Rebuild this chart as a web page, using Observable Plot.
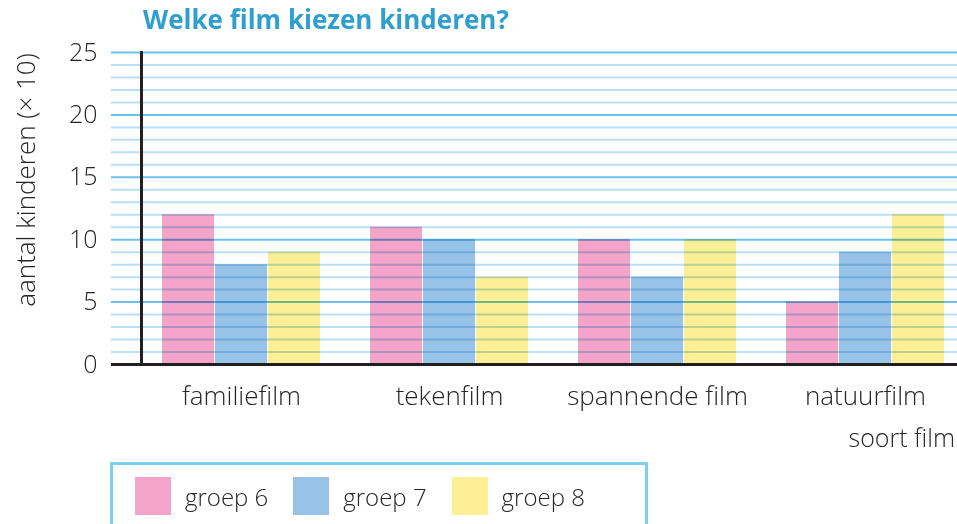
<!DOCTYPE html>
<html>
<head>
<meta charset="utf-8">
<script src="https://cdn.jsdelivr.net/npm/d3@7"></script>
<script src="https://cdn.jsdelivr.net/npm/@observablehq/plot@0.6"></script>
<style>
  html, body { margin: 0; padding: 0; background: #fff; }
  #wrap { position: relative; width: 957px; height: 524px; overflow: hidden; font-family: "Open Sans", Lato, sans-serif; font-weight: 300; color: #252525; font-variant-ligatures: none; }
  #title { position: absolute; left: 143px; top: 1px; font-size: 26px; font-weight: bold; color: #2f9fd0; white-space: nowrap; }
  #ylabel { position: absolute; left: 25px; top: 180px; transform: translate(-50%, -50%) rotate(-90deg); font-size: 26px; white-space: nowrap; }
  #xlabel { position: absolute; right: 2px; top: 420px; font-size: 25px; white-space: nowrap; }
  #legend { position: absolute; left: 110px; top: 462px; width: 538px; height: 80px; border: 3px solid #7fcdf0; box-sizing: border-box; display: flex; align-items: flex-start; padding-top: 12px; padding-left: 22px; font-size: 24px; }
  .item { display: flex; align-items: center; margin-right: 25px; }
  .sw { width: 36px; height: 38px; margin-right: 14px; }
  #chart { position: absolute; left: 0; top: 0; }
  #chart svg text { font-variant-ligatures: none; font-weight: 300; }
</style>
</head>
<body>
<div id="wrap">
  <div id="chart"></div>
  <div id="title"></div>
  <div id="ylabel"></div>
  <div id="xlabel"></div>
  <div id="legend"></div>
</div>
<script>
const titleText = "Welke film kiezen kinderen?";
const yLabel = "aantal kinderen (× 10)";
const xLabel = "soort film";
const categories = ["familiefilm", "tekenfilm", "spannende film", "natuurfilm"];
const groups = ["groep 6", "groep 7", "groep 8"];
const groep6 = [12, 11, 10, 5];
const groep7 = [8, 10, 7, 9];
const groep8 = [9, 7, 10, 12];
const yTicks = [0, 5, 10, 15, 20, 25];
const minorTicks = d3.range(1, 26).filter(v => v % 5 !== 0);
const majorTicks = [5, 10, 15, 20, 25];
const colors = ["#f3a4c8", "#98c3e8", "#fdef96"];

const series = [groep6, groep7, groep8];
const rows = categories.flatMap((c, i) => groups.map((g, j) => ({category: c, group: g, value: series[j][i]})));

document.getElementById("title").textContent = titleText;
document.getElementById("ylabel").textContent = yLabel;
document.getElementById("xlabel").textContent = xLabel;
const legend = document.getElementById("legend");
groups.forEach((g, j) => {
  const it = document.createElement("div");
  it.className = "item";
  const sw = document.createElement("div");
  sw.className = "sw";
  sw.style.background = colors[j];
  const t = document.createElement("span");
  t.textContent = g;
  it.appendChild(sw); it.appendChild(t);
  legend.appendChild(it);
});

const insets = [[0, 106], [53, 53], [106, 0]];
const barMarks = groups.map((g, j) => Plot.barY(rows.filter(d => d.group === g), {
  x: "category", y: "value", fill: colors[j],
  insetLeft: insets[j][0], insetRight: insets[j][1]
}));

const chart = Plot.plot({
  width: 957,
  height: 460,
  marginLeft: 141,
  marginRight: 0,
  marginTop: 52,
  marginBottom: 96,
  style: {fontFamily: "'Open Sans', Lato, sans-serif", color: "#252525", background: "transparent"},
  x: {domain: categories, paddingInner: 0.238, paddingOuter: 0.074, align: 0.615, axis: null},
  y: {domain: [0, 25], axis: null},
  marks: [
    ...barMarks,
    Plot.ruleY(minorTicks, {stroke: "#b9e0f4", strokeWidth: 2, insetLeft: -30, mixBlendMode: "multiply"}),
    Plot.ruleY(majorTicks, {stroke: "#6cc1ec", strokeWidth: 2, insetLeft: -30, mixBlendMode: "multiply"}),
    Plot.ruleY([0], {stroke: "#231f20", strokeWidth: 3, insetLeft: -30}),
    Plot.frame({anchor: "left", stroke: "#231f20", strokeWidth: 3}),
    Plot.axisY({ticks: yTicks, tickSize: 0, tickPadding: 44, fontSize: 25, label: null}),
    Plot.axisX({tickSize: 0, tickPadding: 22, fontSize: 26, label: null})
  ]
});
document.getElementById("chart").appendChild(chart);
</script>
</body>
</html>
